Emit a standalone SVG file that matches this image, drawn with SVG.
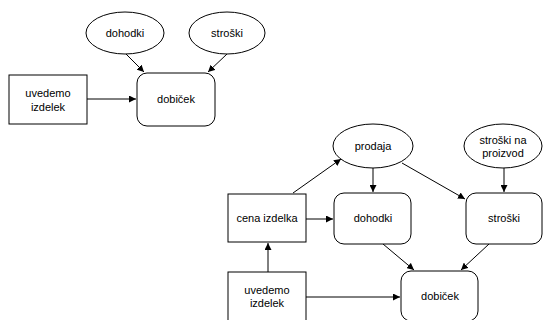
<svg xmlns="http://www.w3.org/2000/svg" width="543" height="320" viewBox="0 0 543 320">
<style>
.s{fill:#fff;stroke:#000;stroke-width:1}
.t{font-family:"Liberation Sans",Arial,sans-serif;font-size:11px;fill:#000;text-anchor:middle}
.c{fill:none;stroke:#000;stroke-width:1;marker-end:url(#a)}
</style>
<defs>
<marker id="a" viewBox="0 0 10 10" refX="10" refY="5" markerWidth="7" markerHeight="7" markerUnits="userSpaceOnUse" orient="auto">
<path d="M0,0 L10,5 L0,10 z" fill="#000"/>
</marker>
</defs>
<rect width="543" height="320" fill="#fff"/>
<g id="connectors">
<line class="c" x1="126" y1="54" x2="144" y2="72"/>
<line class="c" x1="227" y1="54" x2="208" y2="72"/>
<line class="c" x1="87" y1="99" x2="136" y2="99"/>
<line class="c" x1="293" y1="193" x2="341" y2="159"/>
<line class="c" x1="373" y1="168" x2="373" y2="192"/>
<line class="c" x1="402" y1="163" x2="465" y2="199"/>
<line class="c" x1="504" y1="168" x2="504" y2="192"/>
<line class="c" x1="306" y1="219" x2="333" y2="219"/>
<line class="c" x1="268" y1="272" x2="268" y2="243"/>
<line class="c" x1="306" y1="297" x2="400" y2="297"/>
<line class="c" x1="383" y1="244" x2="414" y2="270"/>
<line class="c" x1="489" y1="244" x2="461" y2="270"/>
</g>
<g id="n-dohodki-top"><ellipse class="s" cx="125" cy="33" rx="39" ry="21"/><text class="t" x="125" y="37">dohodki</text></g>
<g id="n-stroski-top"><ellipse class="s" cx="227" cy="33" rx="38" ry="21"/><text class="t" x="227" y="37">stroški</text></g>
<g id="n-uvedemo-top"><rect class="s" x="9" y="75" width="78" height="49"/><text class="t" x="48" y="97">uvedemo</text><text class="t" x="48" y="111">izdelek</text></g>
<g id="n-dobicek-top"><rect class="s" x="137" y="73" width="78" height="53" rx="10"/><text class="t" x="176" y="103">dobiček</text></g>
<g id="n-prodaja"><ellipse class="s" cx="373" cy="146" rx="40" ry="22"/><text class="t" x="373" y="150">prodaja</text></g>
<g id="n-stroski-na-proizvod"><ellipse class="s" cx="503" cy="146" rx="39" ry="22"/><text class="t" x="503" y="144">stroški na</text><text class="t" x="503" y="157">proizvod</text></g>
<g id="n-cena"><rect class="s" x="228" y="194" width="78" height="48"/><text class="t" x="267" y="222">cena izdelka</text></g>
<g id="n-dohodki"><rect class="s" x="334" y="193" width="77" height="51" rx="10"/><text class="t" x="373" y="222">dohodki</text></g>
<g id="n-stroski"><rect class="s" x="466" y="193" width="76" height="51" rx="10"/><text class="t" x="504" y="222">stroški</text></g>
<g id="n-uvedemo"><rect class="s" x="228" y="272" width="78" height="50"/><text class="t" x="267" y="294">uvedemo</text><text class="t" x="267" y="307">izdelek</text></g>
<g id="n-dobicek"><rect class="s" x="401" y="271" width="77" height="50" rx="10"/><text class="t" x="440" y="300">dobiček</text></g>
</svg>
